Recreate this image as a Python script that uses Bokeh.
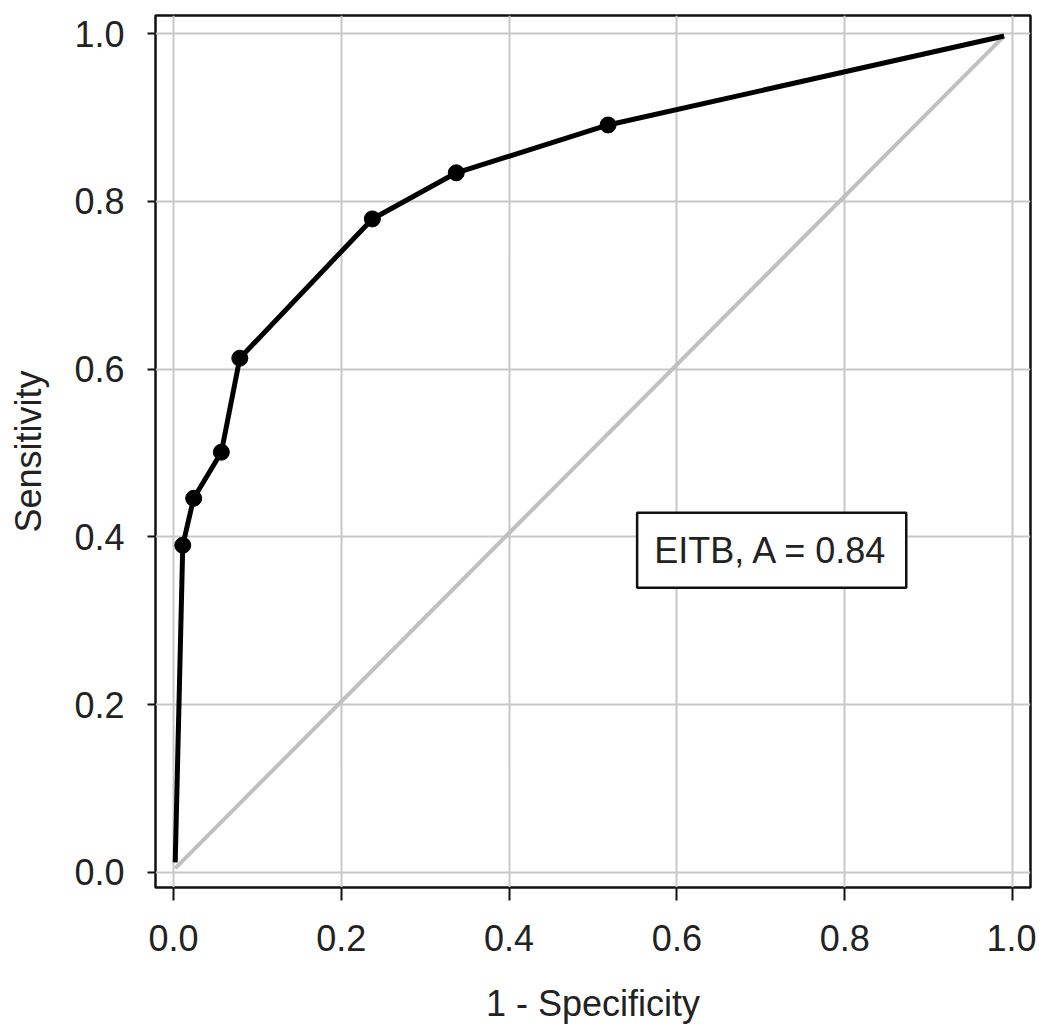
from bokeh.plotting import figure
from bokeh.models import Range1d, Label, FixedTicker, CustomJSTickFormatter
from bokeh.embed import file_html
from bokeh.resources import INLINE

# ROC curve data
fpr = [0.002, 0.011, 0.024, 0.057, 0.079, 0.237, 0.337, 0.518, 0.990]
tpr = [0.012, 0.390, 0.446, 0.501, 0.613, 0.779, 0.834, 0.891, 0.997]
marker_fpr = fpr[1:-1]
marker_tpr = tpr[1:-1]
ref_x = [0.002, 0.990]
ref_y = [0.005, 0.997]
ticks = [0.0, 0.2, 0.4, 0.6, 0.8, 1.0]
x_title = "1 - Specificity"
y_title = "Sensitivity"
annotation = "EITB, A = 0.84"

FONT = "Liberation Sans"
FS = "36px"

p = figure(width=1036, height=1027, output_backend="svg", toolbar_location=None,
           x_range=Range1d(-0.0215, 1.0215), y_range=Range1d(-0.0179, 1.0215),
           min_border_left=155, min_border_right=6, min_border_top=15, min_border_bottom=140)

p.outline_line_color = "#111111"
p.outline_line_width = 2.5
p.background_fill_color = "white"
p.border_fill_color = "white"

fmt = CustomJSTickFormatter(code="return tick.toFixed(1);")
for ax in (p.xaxis[0], p.yaxis[0]):
    ax.ticker = FixedTicker(ticks=ticks)
    ax.formatter = fmt
    ax.axis_line_color = None
    ax.major_tick_line_color = "#111111"
    ax.major_tick_line_width = 2
    ax.major_tick_in = 0
    ax.minor_tick_line_color = None
    ax.major_label_text_font = FONT
    ax.major_label_text_font_size = FS
    ax.major_label_text_color = "#222222"
    ax.axis_label_text_font = FONT
    ax.axis_label_text_font_size = FS
    ax.axis_label_text_font_style = "normal"
    ax.axis_label_text_color = "#222222"

p.xaxis[0].major_tick_out = 13
p.xaxis[0].major_label_standoff = 24
p.xaxis[0].axis_label_standoff = 29
p.xaxis[0].axis_label = x_title

p.yaxis[0].major_tick_out = 8
p.yaxis[0].major_label_standoff = 23
p.yaxis[0].axis_label_standoff = 22
p.yaxis[0].axis_label = y_title

p.grid.ticker = FixedTicker(ticks=ticks)
p.grid.grid_line_color = "#c8c8c8"
p.grid.grid_line_width = 2

p.line(ref_x, ref_y, line_color="#c0c0c0", line_width=4)
p.line(fpr, tpr, line_color="black", line_width=5)
p.scatter(marker_fpr, marker_tpr, size=16, marker="circle", fill_color="black", line_color="black")

lbl = Label(x=0.713, y=0.384, text=annotation, text_align="center", text_baseline="middle",
            text_font=FONT, text_font_size=FS, text_color="#222222",
            border_line_color="#111111", border_line_width=2.5,
            background_fill_color="white", padding=17)
p.add_layout(lbl)

open("out.html", "w").write(file_html(p, INLINE))
